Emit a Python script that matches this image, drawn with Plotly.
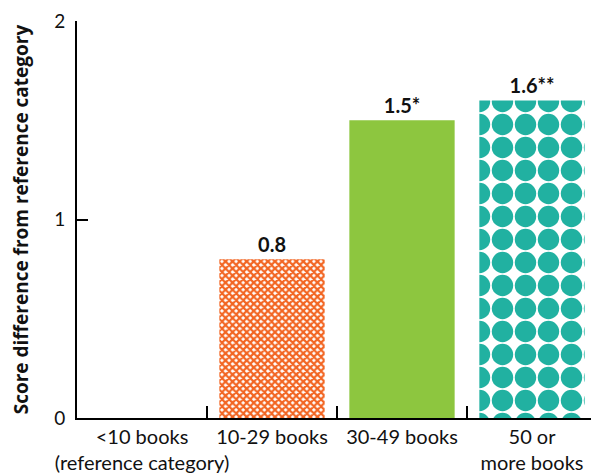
import plotly.graph_objects as go

categories = ["<10 books<br>(reference category)", "10-29 books", "30-49 books", "50 or<br>more books"]
values = [0, 0.8, 1.5, 1.6]
value_labels = ["", "0.8", "1.5*", "1.6**"]
y_ticks = [0, 1, 2]

FONT = "Lato"

fig = go.Figure()
fig.add_trace(go.Bar(
    x=categories,
    y=values,
    text=value_labels,
    textposition="outside",
    cliponaxis=False,
    textfont=dict(family=FONT, size=20, color="#111111", weight="bold"),
    marker=dict(
        color=["#ffffff", "#F26522", "#8DC63F", "#21B1A1"],
        line=dict(width=0),
        pattern=dict(
            shape=["", "x", "", "."],
            fgcolor=["#ffffff", "#F26522", "#8DC63F", "#21B1A1"],
            bgcolor=["#ffffff", "#F89A6C", "#8DC63F", "#ffffff"],
            size=[6, 5, 6, 23],
            solidity=[0.3, 0.7, 0.3, 0.68],
            fillmode="replace",
        ),
    ),
    showlegend=False,
))

fig.update_layout(
    width=599, height=473,
    margin=dict(l=69, r=10, t=13, b=63),
    plot_bgcolor="white", paper_bgcolor="white",
    bargap=0.19,
    font=dict(family=FONT, size=20, color="#111111"),
    xaxis=dict(
        type="category", automargin=False, tickangle=0,
        showline=True, linecolor="black", linewidth=2,
        tickson="boundaries", ticks="inside", ticklen=12, tickwidth=2, tickcolor="black",
        showgrid=False, zeroline=False,
        tickfont=dict(family=FONT, size=20, color="#111111"),
    ),
    yaxis=dict(
        range=[0, 2], tickvals=y_ticks, automargin=False,
        showline=True, linecolor="black", linewidth=2,
        ticks="inside", ticklen=11, tickwidth=2, tickcolor="black",
        showgrid=False, zeroline=False,
        ticklabelstandoff=6,
        tickfont=dict(family=FONT, size=19, color="#111111"),
        title=dict(text="Score difference from reference category",
                   font=dict(family="Open Sans", size=19, color="#111111", weight="bold"),
                   standoff=22),
    ),
)

fig.write_html("out.html")
